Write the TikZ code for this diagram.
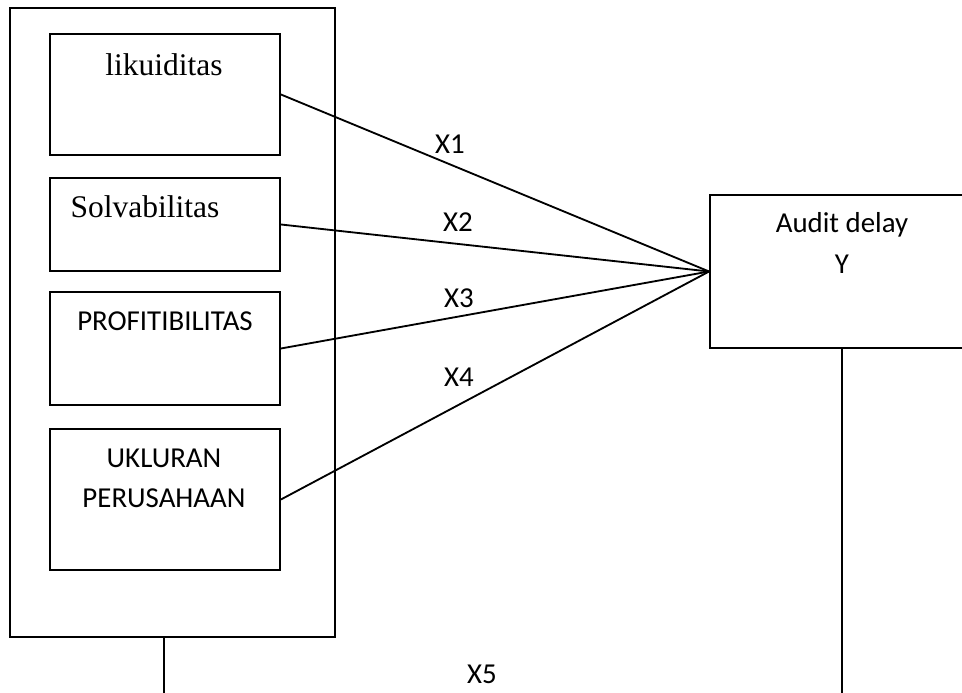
\documentclass[tikz,border=0pt]{standalone}
\usepackage{fontspec}
\setmainfont{Liberation Serif}
\newfontfamily\calibri{Carlito}
\usetikzlibrary{fit}

\begin{document}
\begin{tikzpicture}[x=0.381pt,y=-0.381pt,
    box/.style={draw,line width=0.7pt,inner sep=0pt},
    serif/.style={font=\fontsize{12}{14}\selectfont,anchor=base,inner sep=0pt},
    sans/.style={font=\calibri\fontsize{11}{15.6}\selectfont,anchor=base,inner sep=0pt,align=center},
    link/.style={line width=0.7pt}]
  \useasboundingbox (0,0) rectangle (962,693);
  \clip (0,0) rectangle (962,693);
  % outer frame and four boxes
  \node[box,fit={(10,8) (335,637)}] (outer) {};
  \node[box,fit={(50,34) (280,155)}] (liq) {};
  \node[box,fit={(50,178) (280,271)}] (solv) {};
  \node[box,fit={(50,292) (280,405)}] (prof) {};
  \node[box,fit={(50,429) (280,570)}] (size) {};
  \node[serif] (liqtxt) at (164,76) {likuiditas};
  \node[serif] (solvtxt) at (145,218) {Solvabilitas};
  \node[sans] (proftxt) at (165,331) {PROFITIBILITAS};
  \node[sans] (sizetxt) at (164,508) {UKLURAN\\PERUSAHAAN};
  % the dependent variable (right side runs off the page)
  \node[box,fit={(710,195) (980,348)}] (audit) {};
  \node[sans] (audittxt) at (842,233) {Audit delay};
  \node[sans] (ytxt) at (842,274) {Y};
  % four lines into audit delay
  \draw[link] (liq.east) -- (audit.west);
  \draw[link] (solv.east) -- (audit.west);
  \draw[link] (prof.east) -- (audit.west);
  \draw[link] (size.east) -- (audit.west);
  \node[sans] (xone) at (450,154) {X1};
  \node[sans] (xtwo) at (458,232) {X2};
  \node[sans] (xthree) at (459,308) {X3};
  \node[sans] (xfour) at (459,387) {X4};
  % and two lines down
  \coordinate (leftend) at (164,693);
  \coordinate (rightend) at (842,693);
  \draw[link] (outer.south -| leftend) -- (leftend);
  \draw[link] (audit.south -| rightend) -- (rightend);
  \node[sans] (xfive) at (482,684) {X5};
\end{tikzpicture}
\end{document}
